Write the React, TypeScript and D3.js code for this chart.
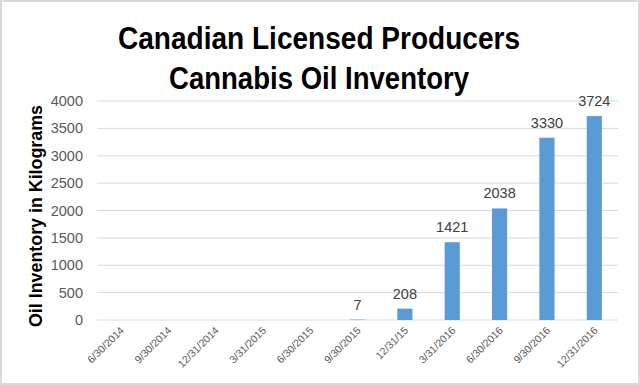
import React from "react";
import * as d3 from "d3";

const categories = ["6/30/2014","9/30/2014","12/31/2014","3/31/2015","6/30/2015","9/30/2015","12/31/15","3/31/2016","6/30/2016","9/30/2016","12/31/2016"];
const values = [0,0,0,0,0,7,208,1421,2038,3330,3724];
const labels = ["","","","","","7","208","1421","2038","3330","3724"];
const yTicks = [0,500,1000,1500,2000,2500,3000,3500,4000];
const titleLines = ["Canadian Licensed Producers","Cannabis Oil Inventory"];
const yTitle = "Oil Inventory in Kilograms";

export default function App() {
  const W = 640, H = 385;
  const x = d3.scaleBand<string>().domain(categories).range([97, 618]).paddingInner(0.68).paddingOuter(0.34);
  const y = d3.scaleLinear().domain([0, 4000]).range([320, 101]);
  const font = "Arial, 'Liberation Sans', sans-serif";
  return (
    <svg width={W} height={H} style={{ position: "absolute", left: 0, top: 0, background: "#fff" }} fontFamily={font}>
      <rect x={1} y={1} width={W - 2} height={H - 2} fill="#fff" stroke="#d9d9d9" strokeWidth={2} />
      {titleLines.map((t, i) => (
        <text key={i} x={319} y={49 + i * 40} textAnchor="middle" fontWeight="bold" fontSize={31} fill="#000"
          textLength={i === 0 ? 402 : 300} lengthAdjust="spacingAndGlyphs">{t}</text>
      ))}
      {yTicks.map(t => (
        <g key={t}>
          <line x1={97} x2={618} y1={y(t)} y2={y(t)} stroke="#d9d9d9" strokeWidth={1} />
          <text x={83} y={y(t) + 5} textAnchor="end" fontSize={14.5} fill="#595959">{t}</text>
        </g>
      ))}
      <text transform={`translate(42,${216}) rotate(-90)`} textAnchor="middle" fontWeight="bold" fontSize={18} fill="#000"
        textLength={222} lengthAdjust="spacingAndGlyphs">{yTitle}</text>
      {categories.map((c, i) => {
        const bx = x(c)!;
        const cx = bx + x.bandwidth() / 2;
        return (
          <g key={c}>
            {values[i] > 0 && (
              <rect x={bx} y={y(values[i])} width={x.bandwidth()} height={y(0) - y(values[i])} fill="#5b9bd5" />
            )}
            {labels[i] && (
              <text x={cx} y={y(values[i]) - 10} textAnchor="middle" fontSize={14.5} fill="#404040">{labels[i]}</text>
            )}
            <text transform={`translate(${cx + 4},${331}) rotate(-45)`} textAnchor="end" fontSize={10.5} fill="#595959">{c}</text>
          </g>
        );
      })}
    </svg>
  );
}
